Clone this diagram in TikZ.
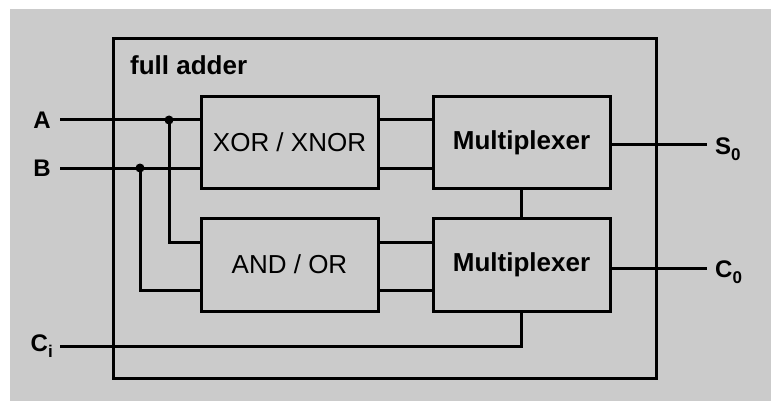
\documentclass[tikz,border=0pt]{standalone}
\usepackage{fontspec}
\setmainfont{Liberation Sans}
\usetikzlibrary{calc}
\definecolor{bg}{HTML}{CBCBCB}
\tikzset{
  wire/.style={line width=3pt},
  block/.style={draw, line width=3pt, minimum width=177pt, minimum height=91pt, inner sep=0pt},
  blocktxt/.style={font=\fontsize{26}{26}\selectfont},
  blockbold/.style={font=\fontsize{26}{26}\selectfont\bfseries},
  lbl/.style={font=\fontsize{24}{24}\selectfont\bfseries, inner sep=0pt},
  dot/.style={circle, fill=black, minimum size=9pt, inner sep=0pt}
}
\newcommand{\subtxt}[1]{{\fontsize{17}{17}\selectfont\raisebox{-6pt}{#1}}}
\begin{document}
\begin{tikzpicture}[x=1pt,y=-1pt]
\useasboundingbox (0,0) rectangle (771,401);
\fill[white] (0,0) rectangle (771,401);
\fill[bg] (10,9) rectangle (771,401);
% outer box
\node[draw, line width=3pt, minimum width=543pt, minimum height=339pt, inner sep=0pt] (fa) at (384.5,208.5) {};
\node[blockbold, anchor=base west, inner sep=0pt] (title) at (130,75) {full adder};
% blocks
\node[block, blocktxt] (xor) at (289.5,142.5) {XOR / XNOR};
\node[block, blockbold] (mux1) at (521.5,142.5) {Multiplexer};
\node[block, blocktxt, minimum height=93pt] (and) at (289.5,264.5) {AND / OR};
\node[block, blockbold, minimum height=93pt] (mux2) at (521.5,264.5) {Multiplexer};
% inputs
\coordinate (Ain) at (60,120);
\coordinate (Bin) at (60,168);
\coordinate (Cin) at (60,346);
\node[lbl] (la) at (42,120) {A};
\node[lbl] (lb) at (42,168) {B};
\node[lbl, anchor=east] (lc) at (53,346) {C\subtxt{i}};
\coordinate (jA) at (169,120);
\coordinate (jB) at (140,168);
\coordinate (andA) at (201,242);
\coordinate (andB) at (201,290);
\draw[wire] (Ain) -- (Ain -| xor.west);
\draw[wire] (Bin) -- (Bin -| xor.west);
\draw[wire] (jA) |- (andA -| and.west);
\draw[wire] (jB) |- (andB -| and.west);
\node[dot] (dA) at (jA) {};
\node[dot] (dB) at (jB) {};
% between blocks
\draw[wire] (Ain -| xor.east) -- (Ain -| mux1.west);
\draw[wire] (Bin -| xor.east) -- (Bin -| mux1.west);
\draw[wire] (andA -| and.east) -- (andA -| mux2.west);
\draw[wire] (andB -| and.east) -- (andB -| mux2.west);
\draw[wire] (mux1.south) -- (mux2.north);
\draw[wire] (Cin) -| (mux2.south);
% outputs
\coordinate (So) at (707,145);
\coordinate (Co) at (707,268);
\draw[wire] (mux1.east |- So) -- (So);
\draw[wire] (mux2.east |- Co) -- (Co);
\node[lbl, anchor=west] (ls) at (715,149) {S\subtxt{0}};
\node[lbl, anchor=west] (lco) at (715,272) {C\subtxt{0}};
\end{tikzpicture}
\end{document}
